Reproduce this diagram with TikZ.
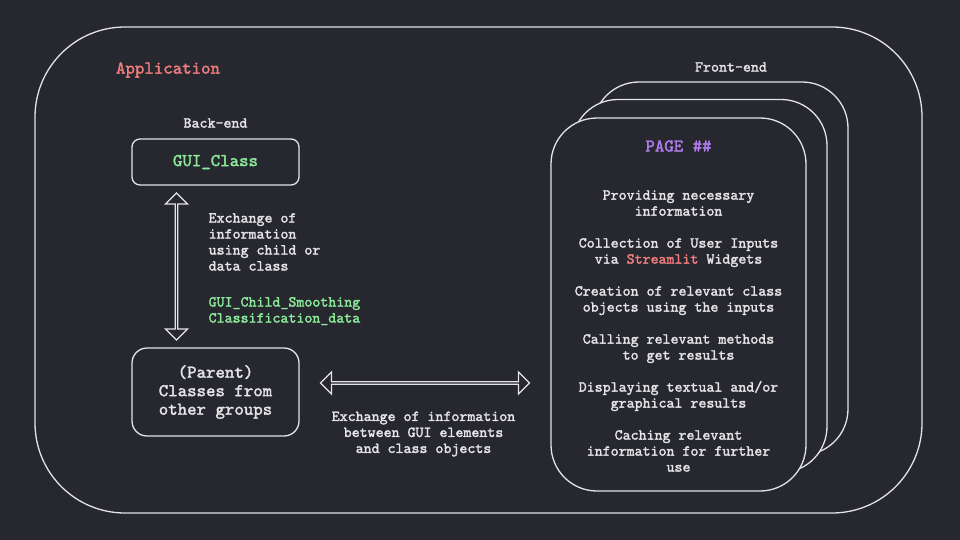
\documentclass[tikz,border=0pt]{standalone}
\usepackage{fontspec}
\setmonofont{lmmono10-regular}[Extension=.otf, BoldFont=lmmono10-regular, BoldFeatures={FakeBold=2}]
\usetikzlibrary{calc}
\usetikzlibrary{positioning}
\usetikzlibrary{shapes.arrows}
\definecolor{bgDark}{HTML}{26272F}
\definecolor{lineGrey}{HTML}{E4E4E6}
\definecolor{appRed}{HTML}{F07C7C}
\definecolor{codeGreen}{HTML}{8CE99A}
\definecolor{pagePurple}{HTML}{B07CEB}
\tikzset{every picture/.style={line width=1.3pt}}
\tikzset{
  smalltxt/.style={font=\ttfamily\bfseries\fontsize{15.2}{16}\selectfont},
  bigtxt/.style={font=\ttfamily\bfseries\fontsize{18}{18.5}\selectfont},
  classbox/.style={draw=lineGrey, rounded corners=8pt, minimum width=167pt, minimum height=46pt, align=center},
  pagebox/.style={draw=lineGrey, fill=bgDark, rounded corners=46pt, minimum width=255pt, minimum height=373pt},
  xarrow/.style={double arrow, draw=lineGrey, inner sep=0pt, minimum width=22pt, double arrow head extend=5.5pt}
}

\begin{document}
\begin{tikzpicture}[x=1pt, y=-1pt, text=lineGrey]
	\fill[bgDark] (0,0) rectangle (960,540);

	% application frame
	\draw[lineGrey, rounded corners=90pt] (35,27) rectangle (922,513);
	\node[bigtxt, text=appRed] (app) at (168,70) {Application};

	% back-end
	\node[smalltxt] (backlbl) at (215.5,123) {Back-end};
	\node[classbox, bigtxt, text=codeGreen] (gui) at (215.5,162) {GUI\_Class};
	\node[classbox, bigtxt, minimum height=88pt, rounded corners=15pt] (parent) at (215.5,392) {(Parent)\\Classes from\\other groups};

	\coordinate (vA) at ($(gui.south)+(-39,0)$);
	\coordinate (vB) at (vA |- parent.north);
	\path (vA) -- node[xarrow, sloped, minimum height=147pt] (vex) {} (vB);

	\node[smalltxt, align=left, anchor=north west, inner sep=0pt] (childtxt) at (208,212.5)
		{Exchange of\\information\\using child or\\data class\\[20pt]
		 \textcolor{codeGreen}{GUI\_Child\_Smoothing}\\\textcolor{codeGreen}{Classification\_data}};

	% front-end pages
	\node[smalltxt] (frontlbl) at (731,67) {Front-end};
	\node[pagebox] (page3) at (720.5,268.5) {};
	\node[pagebox] (page2) at (699.5,286) {};
	\node[pagebox] (page1) at (678.5,304.5) {};
	\node[bigtxt, text=pagePurple] (pagettl) at (678.5,146) {PAGE \#\#};
	\node[smalltxt, align=center] (steps) at (678.5,331)
		{Providing necessary\\information\\[16pt]
		 Collection of User Inputs\\via \textcolor{appRed}{Streamlit} Widgets\\[16pt]
		 Creation of relevant class\\objects using the inputs\\[16pt]
		 Calling relevant methods\\to get results\\[16pt]
		 Displaying textual and/or\\graphical results\\[16pt]
		 Caching relevant\\information for further\\use};

	% exchange between gui and classes
	\coordinate (hA) at ($(parent.east)+(0,-9)$);
	\coordinate (hB) at (hA -| page1.west);
	\path (hA) -- node[xarrow, minimum height=209pt] (hex) {} (hB);
	\node[smalltxt, align=center] (hextxt) at (423.5,434) {Exchange of information\\between GUI elements\\and class objects};
\end{tikzpicture}
\end{document}
